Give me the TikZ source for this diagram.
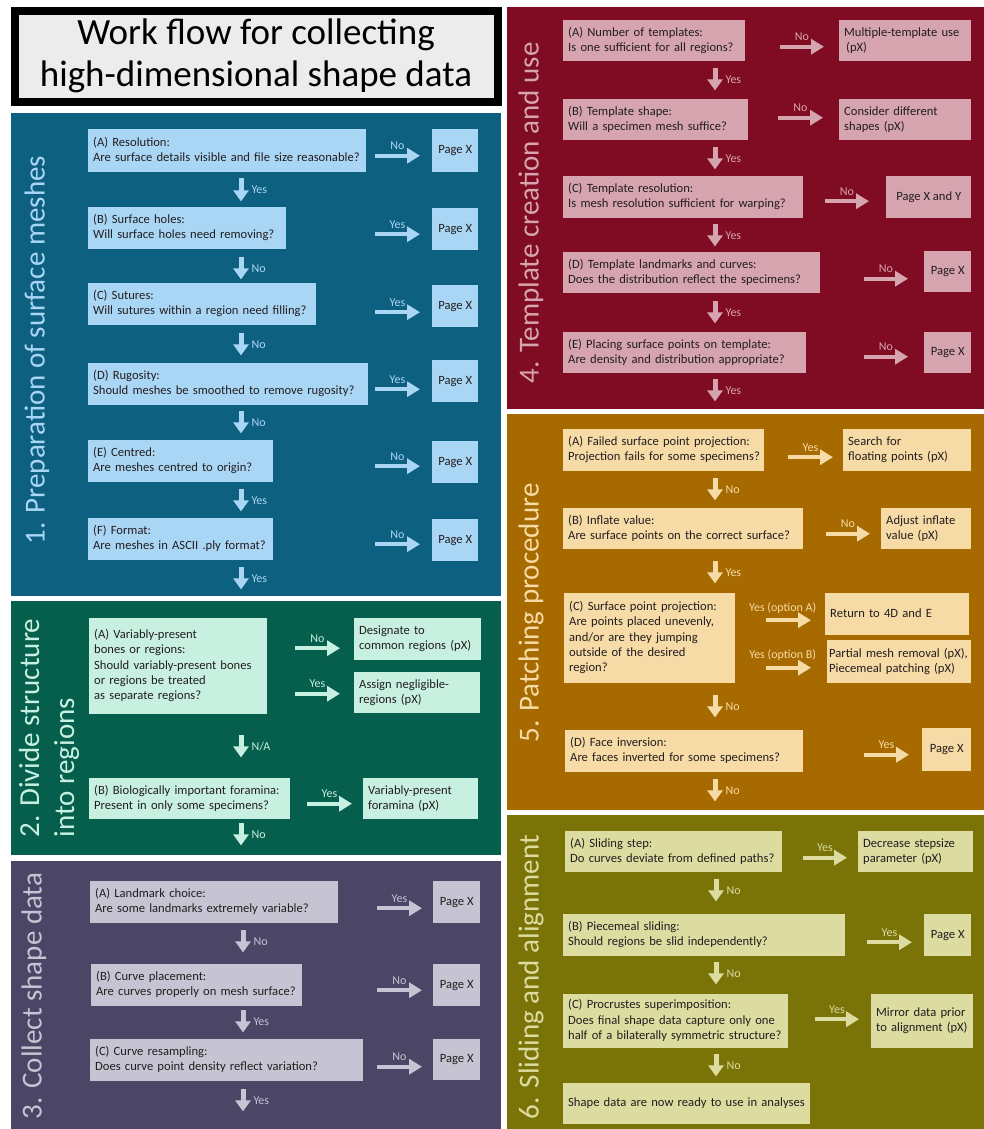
\documentclass[tikz,border=0pt]{standalone}
\usepackage{fontspec}
\setmainfont{Carlito}
\usetikzlibrary{arrows.meta}

\definecolor{blueBg}{RGB}{14,96,128}
\definecolor{blueFg}{RGB}{170,214,245}
\definecolor{greenBg}{RGB}{6,94,76}
\definecolor{greenFg}{RGB}{200,240,224}
\definecolor{purpleBg}{RGB}{75,69,102}
\definecolor{purpleFg}{RGB}{198,196,210}
\definecolor{redBg}{RGB}{128,12,36}
\definecolor{redFg}{RGB}{214,164,174}
\definecolor{ochreBg}{RGB}{166,106,0}
\definecolor{ochreFg}{RGB}{247,219,166}
\definecolor{oliveBg}{RGB}{122,116,8}
\definecolor{oliveFg}{RGB}{220,219,160}
\definecolor{textdark}{RGB}{34,30,31}
\definecolor{titlegrey}{RGB}{236,236,236}

\newcommand{\qfont}{\fontsize{12.6}{15.3}\selectfont}
\newcommand{\tagfont}{\fontsize{12}{13}\selectfont}
\newcommand{\sidefont}{\fontsize{29}{35}\selectfont}
\newcommand{\headfont}{\fontsize{37}{42}\selectfont}
\newcommand{\qlines}[1]{\noindent\begin{tabular}{@{}l@{}}#1\end{tabular}}

\begin{document}
\begin{tikzpicture}[x=1pt, y=-1pt,
    qbox/.style={fill=panelfg, anchor=north west, inner xsep=5pt, inner ysep=0pt, font=\qfont, text=textdark},
    pbox/.style={fill=panelfg, anchor=north west, inner sep=0pt, font=\qfont, text=textdark},
    side/.style={rotate=90, text=panelfg, font=\sidefont, align=left, inner sep=0pt},
    harrow/.style={draw=panelfg, line width=4pt, -{Triangle[length=13pt,width=15pt]}},
    varrow/.style={draw=panelfg, line width=5pt, -{Triangle[length=11pt,width=15pt]}},
    tag/.style={text=panelfg, font=\tagfont, inner sep=1pt}]
    \useasboundingbox[fill=white] (0,0) rectangle (984,1129);

    % Title
    \draw[line width=8pt, fill=titlegrey] (15,11) rectangle (498,102);
    \node[font=\headfont, align=center, text=black] (title) at (256,56) {Work flow for collecting\\high-dimensional shape data};

    % 1. Preparation of surface meshes
    \begin{scope}
    \colorlet{panelbg}{blueBg}\colorlet{panelfg}{blueFg}
    \fill[panelbg] (11,113) rectangle (501,596);
    \coordinate (c1) at (241,0);
    \node[side] (t1) at (37,350) {1. Preparation of surface meshes};
    \node[qbox, text width=268pt, minimum height=43pt] (q1A) at (88,129) {\qlines{(A) Resolution:\\Are surface details visible and file size reasonable?}};
    \node[pbox, minimum width=46pt, minimum height=43pt] (p1A) at (432,129) {Page X};
    \node[qbox, text width=188pt, minimum height=42pt] (q1B) at (88,207) {\qlines{(B) Surface holes:\\Will surface holes need removing?}};
    \node[pbox, minimum width=46pt, minimum height=42pt] (p1B) at (432,208) {Page X};
    \node[qbox, text width=218pt, minimum height=42pt] (q1C) at (88,283) {\qlines{(C) Sutures:\\Will sutures within a region need filling?}};
    \node[pbox, minimum width=46pt, minimum height=42pt] (p1C) at (432,285) {Page X};
    \node[qbox, text width=270pt, minimum height=42pt] (q1D) at (88,363) {\qlines{(D) Rugosity:\\Should meshes be smoothed to remove rugosity?}};
    \node[pbox, minimum width=46pt, minimum height=42pt] (p1D) at (432,360) {Page X};
    \node[qbox, text width=175pt, minimum height=42pt] (q1E) at (88,440) {\qlines{(E) Centred:\\Are meshes centred to origin?}};
    \node[pbox, minimum width=46pt, minimum height=42pt] (p1E) at (432,441) {Page X};
    \node[qbox, text width=175pt, minimum height=42pt] (q1F) at (88,518) {\qlines{(F) Format:\\Are meshes in ASCII .ply format?}};
    \node[pbox, minimum width=46pt, minimum height=42pt] (p1F) at (432,519) {Page X};

    \draw[harrow] ([shift={(-57,5)}]p1A.west) -- ([shift={(-12,5)}]p1A.west) node[tag, midway, above=3pt] {No};
    \draw[harrow] ([shift={(-57,5)}]p1B.west) -- ([shift={(-12,5)}]p1B.west) node[tag, midway, above=3pt] {Yes};
    \draw[harrow] ([shift={(-57,6)}]p1C.west) -- ([shift={(-12,6)}]p1C.west) node[tag, midway, above=3pt] {Yes};
    \draw[harrow] ([shift={(-57,8)}]p1D.west) -- ([shift={(-12,8)}]p1D.west) node[tag, midway, above=3pt] {Yes};
    \draw[harrow] ([shift={(-57,4)}]p1E.west) -- ([shift={(-12,4)}]p1E.west) node[tag, midway, above=3pt] {No};
    \draw[harrow] ([shift={(-57,4)}]p1F.west) -- ([shift={(-12,4)}]p1F.west) node[tag, midway, above=3pt] {No};

    \draw[varrow] (q1A.south -| c1) ++(0,6) -- ++(0,23) node[tag, midway, right=7pt] {Yes};
    \draw[varrow] (q1B.south -| c1) ++(0,8) -- ++(0,22) node[tag, midway, right=7pt] {No};
    \draw[varrow] (q1C.south -| c1) ++(0,8) -- ++(0,22) node[tag, midway, right=7pt] {No};
    \draw[varrow] (q1D.south -| c1) ++(0,6) -- ++(0,22) node[tag, midway, right=7pt] {No};
    \draw[varrow] (q1E.south -| c1) ++(0,7) -- ++(0,22) node[tag, midway, right=7pt] {Yes};
    \draw[varrow] (q1F.south -| c1) ++(0,7) -- ++(0,22) node[tag, midway, right=7pt] {Yes};
    \end{scope}

    % 2. Divide structure into regions
    \begin{scope}
    \colorlet{panelbg}{greenBg}\colorlet{panelfg}{greenFg}
    \fill[panelbg] (11,601) rectangle (501,855);
    \coordinate (c2) at (241,0);
    \node[side] (t2) at (49,728) {2. Divide structure\\into regions};
    \node[qbox, text width=168pt, minimum height=96pt] (q2A) at (89,618) {\qlines{(A) Variably-present\\bones or regions:\\Should variably-present bones\\or regions be treated\\as separate regions?}};
    \node[qbox, text width=117pt, minimum height=42pt] (r2A) at (354,618) {\qlines{Designate to\\common regions (pX)}};
    \node[qbox, text width=116pt, minimum height=41pt] (r2B) at (354,672) {\qlines{Assign negligible-\\regions (pX)}};
    \node[qbox, text width=191pt, minimum height=41pt] (q2B) at (89,778) {\qlines{(B) Biologically important foramina:\\Present in only some specimens?}};
    \node[qbox, text width=105pt, minimum height=41pt] (r2C) at (363,778) {\qlines{Variably-present\\foramina (pX)}};

    \draw[harrow] ([shift={(-59,9)}]r2A.west) -- ([shift={(-14,9)}]r2A.west) node[tag, midway, above=3pt] {No};
    \draw[harrow] ([shift={(-59,1)}]r2B.west) -- ([shift={(-14,1)}]r2B.west) node[tag, midway, above=3pt] {Yes};
    \draw[harrow] ([shift={(-56,5)}]r2C.west) -- ([shift={(-11,5)}]r2C.west) node[tag, midway, above=3pt] {Yes};

    \draw[varrow] (q2A.south -| c2) ++(0,21) -- ++(0,22) node[tag, midway, right=7pt] {N/A};
    \draw[varrow] (q2B.south -| c2) ++(0,4) -- ++(0,22) node[tag, midway, right=7pt] {No};
    \end{scope}

    % 3. Collect shape data
    \begin{scope}
    \colorlet{panelbg}{purpleBg}\colorlet{panelfg}{purpleFg}
    \fill[panelbg] (11,861) rectangle (501,1129);
    \coordinate (c3) at (243,0);
    \node[side] (t3) at (34,996) {3. Collect shape data};
    \node[qbox, text width=238pt, minimum height=42pt] (q3A) at (90,881) {\qlines{(A) Landmark choice:\\Are some landmarks extremely variable?}};
    \node[pbox, minimum width=47pt, minimum height=42pt] (p3A) at (433,881) {Page X};
    \node[qbox, text width=201pt, minimum height=42pt] (q3B) at (91,964) {\qlines{(B) Curve placement:\\Are curves properly on mesh surface?}};
    \node[pbox, minimum width=47pt, minimum height=42pt] (p3B) at (433,964) {Page X};
    \node[qbox, text width=263pt, minimum height=42pt] (q3C) at (90,1039) {\qlines{(C) Curve resampling:\\Does curve point density reflect variation?}};
    \node[pbox, minimum width=47pt, minimum height=41pt] (p3C) at (433,1039) {Page X};

    \draw[harrow] ([shift={(-56,6)}]p3A.west) -- ([shift={(-11,6)}]p3A.west) node[tag, midway, above=3pt] {Yes};
    \draw[harrow] ([shift={(-56,5)}]p3B.west) -- ([shift={(-11,5)}]p3B.west) node[tag, midway, above=3pt] {No};
    \draw[harrow] ([shift={(-56,7)}]p3C.west) -- ([shift={(-11,7)}]p3C.west) node[tag, midway, above=3pt] {No};

    \draw[varrow] (q3A.south -| c3) ++(0,7) -- ++(0,22) node[tag, midway, right=7pt] {No};
    \draw[varrow] (q3B.south -| c3) ++(0,4) -- ++(0,22) node[tag, midway, right=7pt] {Yes};
    \draw[varrow] (q3C.south -| c3) ++(0,8) -- ++(0,22) node[tag, midway, right=7pt] {Yes};
    \end{scope}

    % 4. Template creation and use
    \begin{scope}
    \colorlet{panelbg}{redBg}\colorlet{panelfg}{redFg}
    \fill[panelbg] (507,7) rectangle (984,409);
    \coordinate (c4) at (715,0);
    \node[side] (t4) at (531,213) {4. Template creation and use};
    \node[qbox, text width=172pt, minimum height=41pt] (q4A) at (563,20) {\qlines{(A) Number of templates:\\Is one sufficient for all regions?}};
    \node[qbox, text width=122pt, minimum height=41pt] (r4A) at (839,20) {\qlines{Multiple-template use\\\hspace*{2pt}(pX)}};
    \node[qbox, text width=175pt, minimum height=41pt] (q4B) at (563,99) {\qlines{(B) Template shape:\\Will a specimen mesh suffice?}};
    \node[qbox, text width=122pt, minimum height=41pt] (r4B) at (839,99) {\qlines{Consider different\\shapes (pX)}};
    \node[qbox, text width=230pt, minimum height=42pt] (q4C) at (563,176) {\qlines{(C) Template resolution:\\Is mesh resolution sufficient for warping?}};
    \node[pbox, minimum width=85pt, minimum height=42pt] (p4C) at (886,176) {Page X and Y};
    \node[qbox, text width=247pt, minimum height=41pt] (q4D) at (563,252) {\qlines{(D) Template landmarks and curves:\\Does the distribution reflect the specimens?}};
    \node[pbox, minimum width=47pt, minimum height=41pt] (p4D) at (924,251) {Page X};
    \node[qbox, text width=233pt, minimum height=41pt] (q4E) at (563,332) {\qlines{(E) Placing surface points on template:\\Are density and distribution appropriate?}};
    \node[pbox, minimum width=47pt, minimum height=41pt] (p4E) at (924,332) {Page X};

    \draw[harrow] ([shift={(-59,6)}]r4A.west) -- ([shift={(-15,6)}]r4A.west) node[tag, midway, above=3pt] {No};
    \draw[harrow] ([shift={(-61,-2)}]r4B.west) -- ([shift={(-16,-2)}]r4B.west) node[tag, midway, above=3pt] {No};
    \draw[harrow] ([shift={(-61,4)}]p4C.west) -- ([shift={(-17,4)}]p4C.west) node[tag, midway, above=3pt] {No};
    \draw[harrow] ([shift={(-60,7)}]p4D.west) -- ([shift={(-16,7)}]p4D.west) node[tag, midway, above=3pt] {No};
    \draw[harrow] ([shift={(-60,4)}]p4E.west) -- ([shift={(-16,4)}]p4E.west) node[tag, midway, above=3pt] {No};

    \draw[varrow] (q4A.south -| c4) ++(0,7) -- ++(0,22) node[tag, midway, right=7pt] {Yes};
    \draw[varrow] (q4B.south -| c4) ++(0,7) -- ++(0,22) node[tag, midway, right=7pt] {Yes};
    \draw[varrow] (q4C.south -| c4) ++(0,6) -- ++(0,22) node[tag, midway, right=7pt] {Yes};
    \draw[varrow] (q4D.south -| c4) ++(0,8) -- ++(0,22) node[tag, midway, right=7pt] {Yes};
    \draw[varrow] (q4E.south -| c4) ++(0,6) -- ++(0,22) node[tag, midway, right=7pt] {Yes};
    \end{scope}

    % 5. Patching procedure
    \begin{scope}
    \colorlet{panelbg}{ochreBg}\colorlet{panelfg}{ochreFg}
    \fill[panelbg] (507,414) rectangle (984,810);
    \coordinate (c5) at (715,0);
    \node[side] (t5) at (531,613) {5. Patching procedure};
    \node[qbox, text width=191pt, minimum height=42pt] (q5A) at (563,429) {\qlines{(A) Failed surface point projection:\\Projection fails for some specimens?}};
    \node[qbox, text width=118pt, minimum height=42pt] (r5A) at (843,429) {\qlines{Search for\\floating points (pX)}};
    \node[qbox, text width=230pt, minimum height=41pt] (q5B) at (563,508) {\qlines{(B) Inflate value:\\Are surface points on the correct surface?}};
    \node[qbox, text width=80pt, minimum height=41pt] (r5B) at (881,508) {\qlines{Adjust inflate\\value (pX)}};
    \node[qbox, text width=161pt, minimum height=90pt] (q5C) at (564,593) {\qlines{(C) Surface point projection:\\Are points placed unevenly,\\and/or are they jumping\\outside of the desired\\region?}};
    \node[qbox, text width=134pt, minimum height=42pt] (r5C) at (825,593) {\qlines{Return to 4D and E}};
    \node[qbox, inner xsep=2pt, text width=140pt, minimum height=43pt] (r5D) at (827,640) {\qlines{Partial mesh removal (pX),\\Piecemeal patching (pX)}};
    \node[qbox, text width=228pt, minimum height=42pt] (q5D) at (565,730) {\qlines{(D) Face inversion:\\Are faces inverted for some specimens?}};
    \node[pbox, minimum width=49pt, minimum height=43pt] (p5D) at (922,728) {Page X};

    \draw[harrow] ([shift={(-55,7)}]r5A.west) -- ([shift={(-10,7)}]r5A.west) node[tag, midway, above=3pt] {Yes};
    \draw[harrow] ([shift={(-55,5)}]r5B.west) -- ([shift={(-11,5)}]r5B.west) node[tag, midway, above=3pt] {No};
    \draw[harrow] ([shift={(-59,6)}]r5C.west) -- ([shift={(-14,6)}]r5C.west) node[tag, pos=0.37, above=4pt] {Yes (option A)};
    \draw[harrow] ([shift={(-61,6)}]r5D.west) -- ([shift={(-16,6)}]r5D.west) node[tag, pos=0.37, above=4pt] {Yes (option B)};
    \draw[harrow] ([shift={(-58,5)}]p5D.west) -- ([shift={(-13,5)}]p5D.west) node[tag, midway, above=3pt] {Yes};

    \draw[varrow] (q5A.south -| c5) ++(0,7) -- ++(0,22) node[tag, midway, right=7pt] {No};
    \draw[varrow] (q5B.south -| c5) ++(0,12) -- ++(0,22) node[tag, midway, right=7pt] {Yes};
    \draw[varrow] (q5C.south -| c5) ++(0,12) -- ++(0,22) node[tag, midway, right=7pt] {No};
    \draw[varrow] (q5D.south -| c5) ++(0,7) -- ++(0,22) node[tag, midway, right=7pt] {No};
    \end{scope}

    % 6. Sliding and alignment
    \begin{scope}
    \colorlet{panelbg}{oliveBg}\colorlet{panelfg}{oliveFg}
    \fill[panelbg] (507,815) rectangle (984,1129);
    \coordinate (c6) at (716,0);
    \node[side] (t6) at (531,977) {6. Sliding and alignment};
    \node[qbox, text width=207pt, minimum height=41pt] (q6A) at (565,831) {\qlines{(A) Sliding step:\\Do curves deviate from defined paths?}};
    \node[qbox, text width=105pt, minimum height=41pt] (r6A) at (858,831) {\qlines{Decrease stepsize\\parameter (pX)}};
    \node[qbox, text width=272pt, minimum height=42pt] (q6B) at (563,914) {\qlines{(B) Piecemeal sliding:\\Should regions be slid independently?}};
    \node[pbox, minimum width=47pt, minimum height=42pt] (p6B) at (924,914) {Page X};
    \node[qbox, text width=215pt, minimum height=54pt] (q6C) at (563,994) {\qlines{(C) Procrustes superimposition:\\Does final shape data capture only one\\half of a bilaterally symmetric structure?}};
    \node[qbox, text width=92pt, minimum height=54pt] (r6C) at (871,994) {\qlines{Mirror data prior\\to alignment (pX)}};
    \node[qbox, text width=237pt, minimum height=41pt] (q6D) at (563,1083) {\qlines{Shape data are now ready to use in analyses}};

    \draw[harrow] ([shift={(-55,6)}]r6A.west) -- ([shift={(-11,6)}]r6A.west) node[tag, midway, above=3pt] {Yes};
    \draw[harrow] ([shift={(-57,7)}]p6B.west) -- ([shift={(-12,7)}]p6B.west) node[tag, midway, above=3pt] {Yes};
    \draw[harrow] ([shift={(-56,-2)}]r6C.west) -- ([shift={(-12,-2)}]r6C.west) node[tag, midway, above=3pt] {Yes};

    \draw[varrow] (q6A.south -| c6) ++(0,7) -- ++(0,22) node[tag, midway, right=7pt] {No};
    \draw[varrow] (q6B.south -| c6) ++(0,6) -- ++(0,22) node[tag, midway, right=7pt] {No};
    \draw[varrow] (q6C.south -| c6) ++(0,6) -- ++(0,22) node[tag, midway, right=7pt] {No};
    \end{scope}
\end{tikzpicture}
\end{document}
